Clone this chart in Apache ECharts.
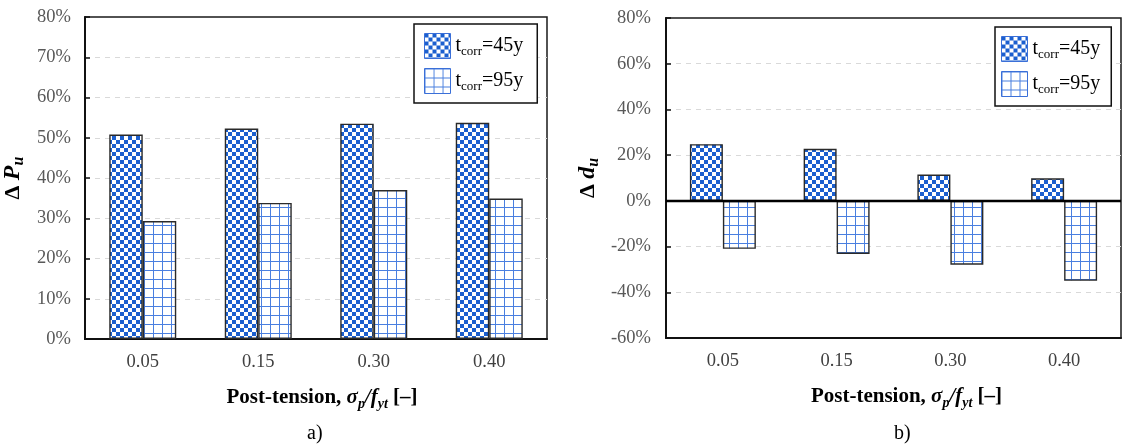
<!DOCTYPE html>
<html>
<head>
<meta charset="utf-8">
<script src="https://cdn.jsdelivr.net/npm/echarts@6/dist/echarts.min.js"></script>
<style>
html,body{margin:0;padding:0;background:#fff;}
#c{width:1123px;height:448px;}
</style>
</head>
<body>
<div id="c"></div>
<script>
// ---- data ----
const categories = ['0.05', '0.15', '0.30', '0.40'];
const seriesNames = ['tcorr=45y', 'tcorr=95y'];
const pu45 = [50.8, 52.3, 53.5, 53.7];
const pu95 = [29.3, 33.8, 37.0, 34.9];
const du45 = [24.8, 22.8, 11.5, 9.9];
const du95 = [-21.0, -23.2, -27.9, -35.0];
const panelLabels = ['a)', 'b)'];

// ---- patterns ----
function checker() {
  const c = document.createElement('canvas');
  c.width = 8; c.height = 8;
  const g = c.getContext('2d');
  g.fillStyle = '#ffffff'; g.fillRect(0, 0, 8, 8);
  g.fillStyle = '#1b5fcf';
  g.fillRect(0, 0, 4, 4); g.fillRect(4, 4, 4, 4);
  return c;
}
function gridPat() {
  const c = document.createElement('canvas');
  c.width = 9; c.height = 9;
  const g = c.getContext('2d');
  g.fillStyle = '#ffffff'; g.fillRect(0, 0, 9, 9);
  g.fillStyle = '#4a7fe0';
  g.fillRect(0, 0, 1, 9); g.fillRect(0, 0, 9, 1);
  return c;
}
const pat45 = { image: checker(), repeat: 'repeat' };
const pat95 = { image: gridPat(), repeat: 'repeat' };

const SERIF = '"Liberation Serif", "DejaVu Serif", serif';

const legendRich = {
  t: { fontFamily: SERIF, fontSize: 20, color: '#000', lineHeight: 24 },
  s: { fontFamily: SERIF, fontSize: 13, color: '#000', lineHeight: 13, verticalAlign: 'bottom' }
};
function legendFmt(name) {
  return '{t|t}{s|corr}{t|' + name.replace('tcorr', '') + '}';
}

const yNameRich = {
  d: { fontFamily: SERIF, fontSize: 22, fontWeight: 'bold', color: '#000', lineHeight: 28 },
  i: { fontFamily: SERIF, fontSize: 24, fontWeight: 'bold', fontStyle: 'italic', color: '#000', lineHeight: 28 },
  s: { fontFamily: SERIF, fontSize: 16, fontWeight: 'bold', fontStyle: 'italic', color: '#000', lineHeight: 16, verticalAlign: 'bottom' }
};
const xNameRich = {
  b: { fontFamily: SERIF, fontSize: 21, fontWeight: 'bold', color: '#000', lineHeight: 26 },
  i: { fontFamily: SERIF, fontSize: 21, fontWeight: 'bold', fontStyle: 'italic', color: '#000', lineHeight: 26 },
  s: { fontFamily: SERIF, fontSize: 14, fontWeight: 'bold', fontStyle: 'italic', color: '#000', lineHeight: 14, verticalAlign: 'bottom' }
};
const xNameText = '{b|Post-tension, }{i|σ}{s|p}{i|/f}{s|yt}{b| [–]}';

function xAxisOpt(gridIndex, padLeft) {
  return {
    type: 'category', gridIndex: gridIndex, data: categories,
    axisLine: { show: true, onZero: false, lineStyle: { color: '#111', width: 2 } },
    axisTick: { show: false },
    axisLabel: { fontFamily: SERIF, fontSize: 18.5, color: '#404040', margin: 14 },
    name: xNameText, nameLocation: 'middle', nameGap: 46,
    nameTextStyle: { rich: xNameRich, padding: [0, 0, 0, padLeft] }
  };
}
function yAxisOpt(gridIndex, min, max, interval, nameText, nameGap, margin) {
  return {
    type: 'value', gridIndex: gridIndex, min: min, max: max, interval: interval,
    axisLine: { show: true, lineStyle: { color: '#111', width: 2 } },
    axisTick: { show: true, inside: true, length: 5, lineStyle: { color: '#111', width: 1.5 } },
    axisLabel: { fontFamily: SERIF, fontSize: 18.5, color: '#595959', margin: margin, formatter: '{value}%' },
    splitLine: { show: true, showMinLine: false, showMaxLine: false,
      lineStyle: { color: '#d9d9d9', type: [5, 5], width: 1 } },
    name: nameText, nameLocation: 'middle', nameRotate: 90, nameGap: nameGap,
    nameTextStyle: { rich: yNameRich }
  };
}
function barSeries(name, data, pat, xi, yi, extra) {
  return Object.assign({
    type: 'bar', name: name, data: data, xAxisIndex: xi, yAxisIndex: yi,
    barGap: '0%', barCategoryGap: '42%',
    itemStyle: { color: pat, borderColor: '#2a2a2a', borderWidth: 1.4 },
    emphasis: { disabled: true }
  }, extra || {});
}
function legendOpt(left, top, padding) {
  return {
    left: left, top: top, orient: 'vertical',
    data: seriesNames,
    icon: 'rect',
    itemWidth: 26, itemHeight: 25, itemGap: 9,
    padding: padding,
    borderColor: '#111', borderWidth: 1.5,
    backgroundColor: '#fff',
    formatter: legendFmt,
    textStyle: { rich: legendRich },
    itemStyle: { borderColor: '#3a6fd8', borderWidth: 1 },
    selectedMode: false
  };
}

const option = {
  animation: false,
  backgroundColor: '#fff',
  title: [
    { text: panelLabels[0], left: 307, top: 424, padding: 0,
      textStyle: { fontFamily: SERIF, fontSize: 20, fontWeight: 'normal', color: '#000' } },
    { text: panelLabels[1], left: 894, top: 424, padding: 0,
      textStyle: { fontFamily: SERIF, fontSize: 20, fontWeight: 'normal', color: '#000' } }
  ],
  grid: [
    { left: 85, top: 17, width: 462, height: 322, show: true, borderColor: '#1a1a1a', borderWidth: 1.5,
      containLabel: false, outerBoundsMode: 'none' },
    { left: 666, top: 18, width: 455, height: 320, show: true, borderColor: '#1a1a1a', borderWidth: 1.5,
      containLabel: false, outerBoundsMode: 'none' }
  ],
  legend: [
    legendOpt(414, 24, [9, 14, 9, 10]),
    legendOpt(995, 27, [9, 11, 9, 6])
  ],
  xAxis: [xAxisOpt(0, 12), xAxisOpt(1, 26)],
  yAxis: [
    yAxisOpt(0, 0, 80, 10, '{d|Δ }{i|P}{s|u}', 58, 14),
    yAxisOpt(1, -60, 80, 20, '{d|Δ }{i|d}{s|u}', 64, 15)
  ],
  series: [
    barSeries(seriesNames[0], pu45, pat45, 0, 0),
    barSeries(seriesNames[1], pu95, pat95, 0, 0),
    barSeries(seriesNames[0], du45, pat45, 1, 1, {
      markLine: {
        silent: true, symbol: ['none', 'none'], label: { show: false },
        lineStyle: { color: '#000', width: 2.4, type: 'solid' },
        data: [{ yAxis: 0 }]
      }
    }),
    barSeries(seriesNames[1], du95, pat95, 1, 1)
  ]
};

const chart = echarts.init(document.getElementById('c'), null, { renderer: 'canvas' });
chart.setOption(option);
</script>
</body>
</html>
